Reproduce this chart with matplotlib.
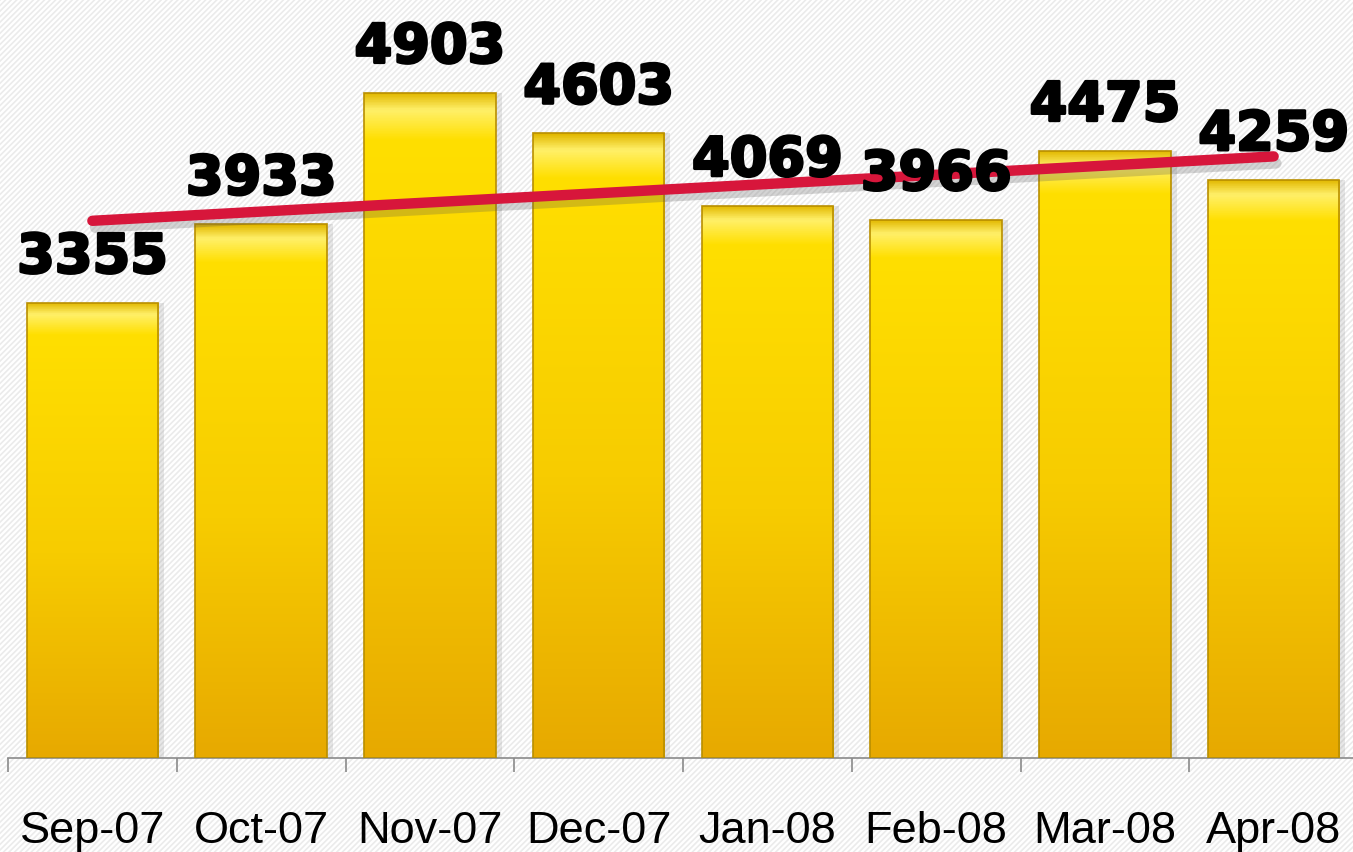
import numpy as np
import matplotlib.pyplot as plt
import matplotlib.patheffects as pe
from matplotlib.colors import LinearSegmentedColormap
from matplotlib.patches import Rectangle

# data
months = ["Sep-07", "Oct-07", "Nov-07", "Dec-07", "Jan-08", "Feb-08", "Mar-08", "Apr-08"]
values = [3355, 3933, 4903, 4603, 4069, 3966, 4475, 4259]

plt.rcParams["hatch.linewidth"] = 1.2

fig = plt.figure(figsize=(13.53, 8.52), dpi=100)
fig.patch.set_facecolor("white")

# faint diagonal stripes in the background
bg = Rectangle((0, 0), 1, 1, transform=fig.transFigure, facecolor="white",
               edgecolor="#ebebeb", hatch="//////", linewidth=0, zorder=-10)
fig.patches.append(bg)

ax = fig.add_axes([8 / 1353, 94 / 852, 1350 / 1353, 758 / 852])
ax.patch.set_alpha(0)

x = np.arange(len(months))
width = 0.78
ymax = 5585

# soft shadow to the right of each bar
ax.bar(x + 0.035, values, width, color="#7a7a7a", alpha=0.18, zorder=1, linewidth=0)

bars = ax.bar(x, values, width, color="none", edgecolor="#b98f00", linewidth=1.2, zorder=3)

# vertical gradient inside the bars, with a light bevel at the top
gold = LinearSegmentedColormap.from_list(
    "gold", [(0, "#e7a900"), (0.45, "#f7cc00"), (0.93, "#ffdf00"),
             (0.975, "#fff06a"), (1, "#e2b800")])
grad = np.linspace(0, 1, 256).reshape(-1, 1)
for b in bars:
    x0, h, w = b.get_x(), b.get_height(), b.get_width()
    im = ax.imshow(grad, extent=[x0, x0 + w, 0, h], origin="lower", aspect="auto",
                   cmap=gold, zorder=2)
    im.set_clip_path(b)

# linear trend line through the monthly values
slope, intercept = np.polyfit(x, values, 1)
trend = slope * x + intercept
ax.plot(x, trend, color="#d7163b", linewidth=7.5, solid_capstyle="round", zorder=4,
        path_effects=[pe.SimpleLineShadow(offset=(2, -5), shadow_color="#555555", alpha=0.25),
                      pe.Normal()])

# value labels above the bars
for xi, v in zip(x, values):
    ax.annotate(str(v), (xi, v), xytext=(0, 21.5), textcoords="offset points",
                ha="center", va="baseline", fontsize=39, fontweight="bold",
                family="DejaVu Sans", color="black", zorder=5,
                path_effects=[pe.withStroke(linewidth=2, foreground="black")])

ax.set_xlim(-0.5, len(months) - 0.5)
ax.set_ylim(0, ymax)
ax.set_yticks([])
ax.set_xticks(x)
ax.set_xticklabels(months, fontsize=32.5, family="Liberation Sans")
ax.tick_params(axis="x", which="major", length=0, pad=38)
ax.set_xticks(np.arange(-0.5, len(months)), minor=True)
ax.tick_params(axis="x", which="minor", length=10, color="#8a8a8a", width=1.2)

for s in ["top", "right", "left"]:
    ax.spines[s].set_visible(False)
ax.spines["bottom"].set_color("#8a8a8a")
ax.spines["bottom"].set_linewidth(1.2)

fig.savefig("out.png", dpi=100)
